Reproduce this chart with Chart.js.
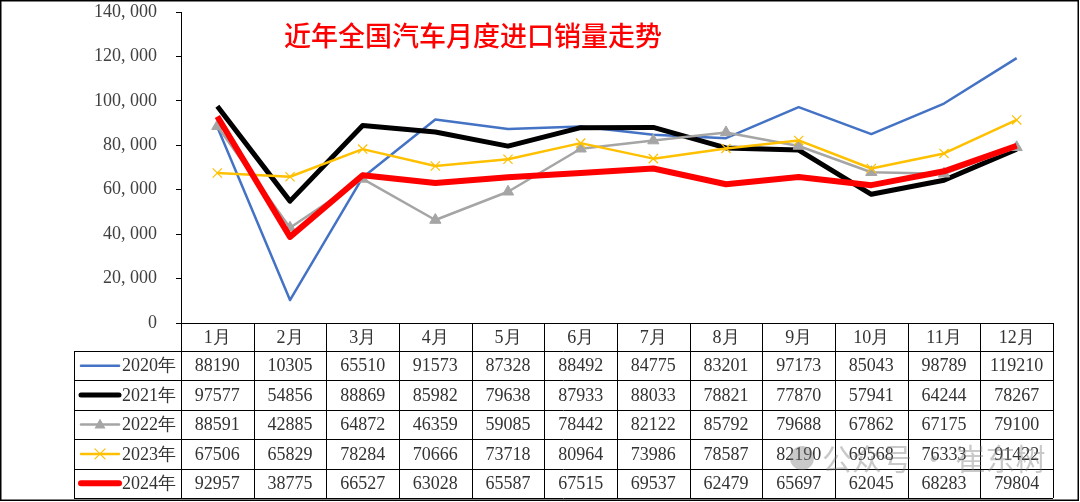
<!DOCTYPE html>
<html>
<head>
<meta charset="utf-8">
<script src="https://cdn.jsdelivr.net/npm/chart.js@4.4.1/dist/chart.umd.min.js"></script>
<style>
  html, body { margin: 0; padding: 0; background: #fff; }
  canvas { display: block; }
</style>
</head>
<body>
<canvas id="importChart" width="1080" height="502"></canvas>
<script>
// Data
const months = ["1月", "2月", "3月", "4月", "5月", "6月", "7月", "8月", "9月", "10月", "11月", "12月"];
const seriesNames = ["2020年", "2021年", "2022年", "2023年", "2024年"];
const sales2020 = [88190, 10305, 65510, 91573, 87328, 88492, 84775, 83201, 97173, 85043, 98789, 119210];
const sales2021 = [97577, 54856, 88869, 85982, 79638, 87933, 88033, 78821, 77870, 57941, 64244, 78267];
const sales2022 = [88591, 42885, 64872, 46359, 59085, 78442, 82122, 85792, 79688, 67862, 67175, 79100];
const sales2023 = [67506, 65829, 78284, 70666, 73718, 80964, 73986, 78587, 82190, 69568, 76333, 91422];
const sales2024 = [92957, 38775, 66527, 63028, 65587, 67515, 69537, 62479, 65697, 62045, 68283, 79804];
const yTicks = [0, 20000, 40000, 60000, 80000, 100000, 120000, 140000];
const chartTitle = "近年全国汽车月度进口销量走势";

const allSeries = [sales2020, sales2021, sales2022, sales2023, sales2024];
const colors = ["#4472C4", "#000000", "#A5A5A5", "#FFC000", "#FF0000"];
const widths = [2.5, 5, 2.5, 2.5, 6];
const markers = [false, false, "triangle", "crossRot", false];

const serif = "'Liberation Serif', 'DejaVu Serif', serif";

// Draws title, the data table with legend keys, frame and watermark
const tablePlugin = {
    id: "dataTable",
    afterDraw(chart) {
        const ctx = chart.ctx;
        const area = chart.chartArea;
        const xs = chart.scales.x;
        const cellW = (area.right - area.left) / months.length;
        const top = area.bottom;
        const headH = 28;
        const rowH = 29.4;
        const legendLeft = 74;
        const bottom = top + headH + rowH * seriesNames.length;

        ctx.save();

        // title
        ctx.fillStyle = "#FF0000";
        ctx.font = "500 27px 'Noto Sans CJK SC', sans-serif";
        ctx.textAlign = "left";
        ctx.textBaseline = "middle";
        ctx.fillText(chartTitle, 284, 36);

        // grid of the table
        ctx.strokeStyle = "#000";
        ctx.lineWidth = 1;
        ctx.beginPath();
        ctx.moveTo(area.left, top + 0.5);
        ctx.lineTo(area.right, top + 0.5);
        for (let r = 0; r <= seriesNames.length; r++) {
            const y = Math.round(top + headH + r * rowH) + 0.5;
            ctx.moveTo(legendLeft, y);
            ctx.lineTo(area.right, y);
        }
        ctx.moveTo(legendLeft + 0.5, top + headH);
        ctx.lineTo(legendLeft + 0.5, bottom);
        for (let c = 0; c <= months.length; c++) {
            const x = Math.round(area.left + c * cellW) + 0.5;
            ctx.moveTo(x, top);
            ctx.lineTo(x, bottom);
        }
        ctx.stroke();

        // header
        ctx.fillStyle = "#333";
        ctx.font = "18px " + serif;
        ctx.textAlign = "center";
        months.forEach((m, i) => {
            ctx.fillText(m, xs.getPixelForValue(i), top + headH / 2 + 1);
        });

        // rows
        allSeries.forEach((vals, r) => {
            const cy = top + headH + r * rowH + rowH / 2 + 1;
            vals.forEach((v, i) => {
                ctx.textAlign = "center";
                ctx.fillText(String(v), xs.getPixelForValue(i), cy);
            });
            // legend key
            const ky = cy - 1;
            ctx.strokeStyle = colors[r];
            ctx.lineWidth = widths[r];
            ctx.lineCap = "round";
            ctx.beginPath();
            ctx.moveTo(81, ky);
            ctx.lineTo(119, ky);
            ctx.stroke();
            if (markers[r] === "triangle") {
                ctx.fillStyle = colors[r];
                ctx.beginPath();
                ctx.moveTo(100, ky - 6);
                ctx.lineTo(105.5, ky + 4);
                ctx.lineTo(94.5, ky + 4);
                ctx.closePath();
                ctx.fill();
            } else if (markers[r] === "crossRot") {
                ctx.lineWidth = 1.2;
                ctx.beginPath();
                ctx.moveTo(95, ky - 5); ctx.lineTo(105, ky + 5);
                ctx.moveTo(105, ky - 5); ctx.lineTo(95, ky + 5);
                ctx.stroke();
            }
            ctx.fillStyle = "#333";
            ctx.textAlign = "right";
            ctx.fillText(seriesNames[r], 176, cy);
        });

        // watermark
        ctx.fillStyle = "rgba(120,120,120,0.4)";
        ctx.beginPath();
        ctx.arc(802, 458, 12, 0, Math.PI * 2);
        ctx.fill();
        ctx.font = "30px 'Noto Sans CJK SC', sans-serif";
        ctx.textAlign = "left";
        ctx.fillText("公众号 · 崔东树", 822, 459);

        // outer frame
        ctx.strokeStyle = "#000";
        ctx.lineWidth = 1.5;
        ctx.strokeRect(0.75, 0.75, 1077.5, 499.5);
        ctx.restore();
    }
};

const datasets = allSeries.map((vals, i) => ({
    label: seriesNames[i],
    data: vals,
    borderColor: colors[i],
    backgroundColor: colors[i],
    borderWidth: widths[i],
    pointStyle: markers[i] || "circle",
    pointRadius: markers[i] ? 6.5 : 0,
    pointBorderWidth: markers[i] === "crossRot" ? 1.2 : 1,
    pointBackgroundColor: colors[i],
    pointBorderColor: colors[i],
    tension: 0,
    borderJoinStyle: "round",
    order: allSeries.length - i
}));

new Chart(document.getElementById("importChart"), {
    type: "line",
    data: { labels: months, datasets: datasets },
    options: {
        responsive: false,
        animation: false,
        layout: { padding: { left: 0, right: 27, top: 12, bottom: 179 } },
        plugins: {
            legend: { display: false },
            tooltip: { enabled: false },
            title: { display: false }
        },
        scales: {
            x: {
                display: false,
                offset: true
            },
            y: {
                min: 0,
                max: 140000,
                afterFit(scale) {
                    scale.width = 181;
                    scale.paddingTop = 0;
                    scale.paddingBottom = 0;
                },
                afterBuildTicks(scale) { scale.ticks = yTicks.map(v => ({ value: v })); },
                border: { display: true, color: "#000", width: 1 },
                grid: {
                    drawOnChartArea: false,
                    drawTicks: true,
                    tickLength: 5,
                    color: "#000"
                },
                ticks: {
                    padding: 19,
                    color: "#404040",
                    font: { family: serif, size: 18 },
                    callback: v => v === 0 ? "0" : Math.floor(v / 1000) + ", 000"
                }
            }
        }
    },
    plugins: [tablePlugin]
});
</script>
</body>
</html>
